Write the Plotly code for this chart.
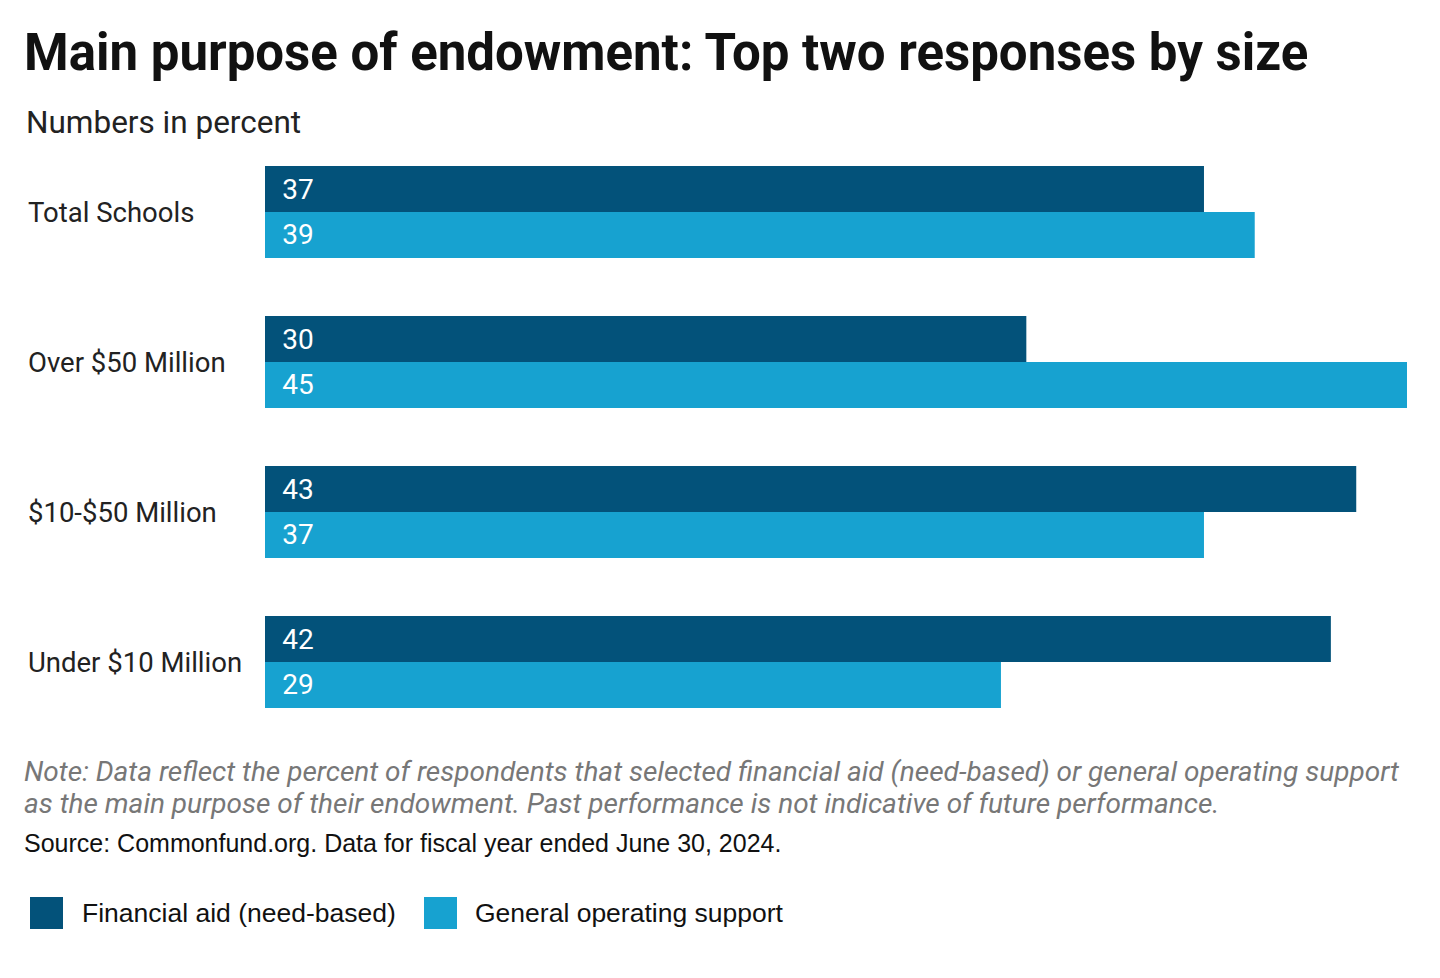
import plotly.graph_objects as go

categories = ["Total Schools", "Over $50 Million", "$10-$50 Million", "Under $10 Million"]
financial_aid = [37, 30, 43, 42]
general_support = [39, 45, 37, 29]
series_names = ["Financial aid (need-based)", "General operating support"]
DARK, LIGHT = "#03527a", "#17a2d0"

W, H = 1440, 978
OFF = 8  # page body offset
L, R, T, B = 265 - OFF, 33 + OFF, 137 - OFF, 241 + OFF
pw = W - L - R

fig = go.Figure()
for name, vals, col in [(series_names[0], financial_aid, DARK), (series_names[1], general_support, LIGHT)]:
    fig.add_trace(go.Bar(y=categories, x=vals, orientation="h", name=name, marker_color=col,
                         marker_line_width=0, texttemplate="\u2002%{x}", textposition="inside",
                         insidetextanchor="start",
                         textfont=dict(color="white", size=28, family="Roboto"), showlegend=False))

fig.update_layout(
    width=W, height=H, margin=dict(l=L, r=R, t=T, b=B), paper_bgcolor="white", plot_bgcolor="white",
    barmode="group", bargap=0.387, bargroupgap=0,
    xaxis=dict(range=[0, 45], visible=False),
    yaxis=dict(autorange="reversed", showticklabels=False, showgrid=False, zeroline=False),
    uniformtext=dict(mode="show", minsize=10),
)

def px(x):
    return (x - OFF - L) / pw
def py(y):
    return 1 - (y - OFF - T) / (H - T - B)

ann = []
for c in categories:
    ann.append(dict(x=px(26), y=c, xref="paper", yref="y", text=c, showarrow=False, xanchor="left",
                    font=dict(size=27.5, family="Roboto", color="#222")))
def txt(x, y, s, size, color="#111", family="Roboto"):
    ann.append(dict(x=px(x), y=py(y), xref="paper", yref="paper", text=s, showarrow=False,
                    xanchor="left", yanchor="middle", font=dict(size=size, color=color, family=family)))
txt(22, 52, "<b>Main purpose of endowment: Top two responses by size</b>", 51, "#111")
txt(24, 123, "Numbers in percent", 31.5, "#222")
txt(22, 771, "<i>Note: Data reflect the percent of respondents that selected financial aid (need-based) or general operating support</i>", 28, "#777")
txt(22, 803, "<i>as the main purpose of their endowment. Past performance is not indicative of future performance.</i>", 28, "#777")
txt(22, 843, "Source: Commonfund.org. Data for fiscal year ended June 30, 2024.", 25, "#111", "Arial")
txt(80, 913, series_names[0], 26.5, "#111", "Arial")
txt(473, 913, series_names[1], 26.5, "#111", "Arial")
fig.update_layout(annotations=ann)

shapes = []
for x0, col in [(30, DARK), (424, LIGHT)]:
    shapes.append(dict(type="rect", xref="paper", yref="paper", x0=px(x0), x1=px(x0 + 33),
                       y0=py(929), y1=py(897), fillcolor=col, line_width=0))
fig.update_layout(shapes=shapes)

fig.write_html("out.html")
